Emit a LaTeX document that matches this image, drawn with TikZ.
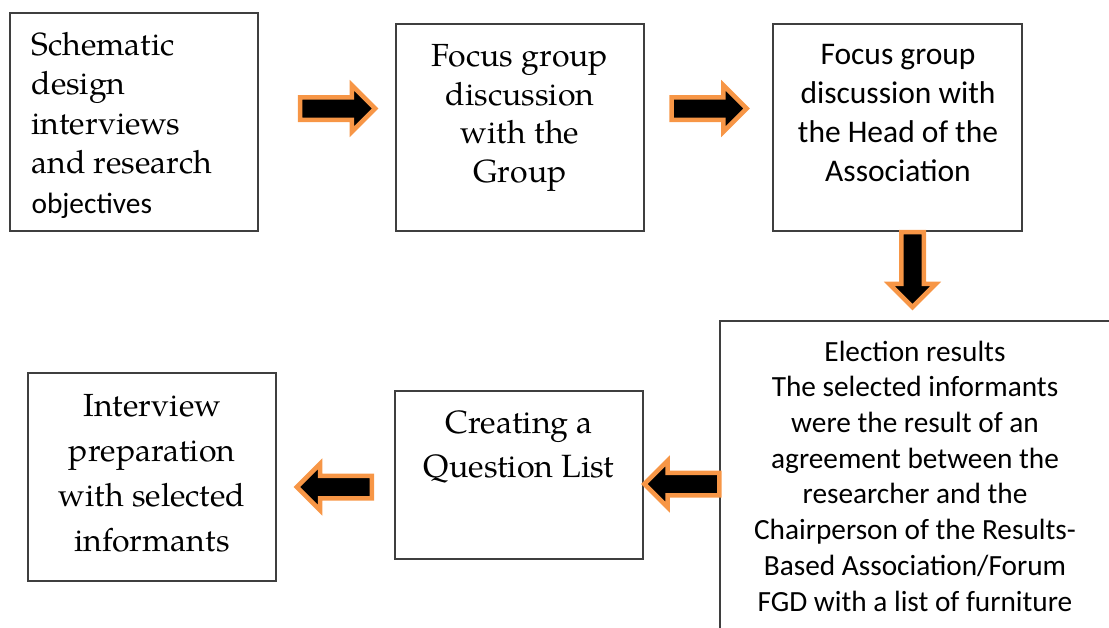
\documentclass[tikz,border=0pt]{standalone}
\usepackage{fontspec}
\setmainfont{TeX Gyre Pagella}
\newfontfamily\calib{Carlito}
\usetikzlibrary{shapes.arrows}
\definecolor{accent}{HTML}{F79646}
\definecolor{rim}{HTML}{3F3F3F}
\tikzset{
  stepbox/.style={draw=rim, line width=1.2pt, inner sep=0pt},
  blockarrow/.style={single arrow, draw=accent, fill=black, line width=4.5pt,
    inner xsep=0pt, inner ysep=9pt, minimum height=75pt, minimum width=42pt,
    single arrow head extend=12pt}
}
\begin{document}
\begin{tikzpicture}[x=1pt, y=-1pt]
\path[use as bounding box] (0,0) rectangle (1109,627);
\clip (0,0) rectangle (1109,627);
% boxes
\node[stepbox, minimum width=248pt, minimum height=218pt] (b1) at (134,122) {};
\node[stepbox, minimum width=248pt, minimum height=207pt] (b2) at (520,127.5) {};
\node[stepbox, minimum width=249pt, minimum height=207pt] (b3) at (897.5,127.5) {};
\node[stepbox, minimum width=410pt, minimum height=330pt] (b4) at (925,486) {};
\node[stepbox, minimum width=248pt, minimum height=168pt] (b5) at (519,475) {};
\node[stepbox, minimum width=248pt, minimum height=208pt] (b6) at (152,477) {};
% texts
\node[anchor=west, align=left, font=\fontsize{32}{39.5}\selectfont] (t1) at (28,125)
  {Schematic\\design\\interviews\\and research\\{\calib\fontsize{29.4}{39.5}\selectfont objectives}};
\node[align=center, font=\fontsize{32}{38.7}\selectfont] (t2) at (520,118)
  {Focus group\\discussion\\with the\\Group};
\node[align=center, font=\calib\fontsize{31.5}{38.7}\selectfont] (t3) at (898,113)
  {Focus group\\discussion with\\the Head of the\\Association};
\node[align=center, font=\calib\fontsize{29.3}{35.7}\selectfont] (t4) at (915,476)
  {Election results\\The selected informants\\were the result of an\\agreement between the\\researcher and the\\Chairperson of the Results-\\Based Association/Forum\\FGD with a list of furniture};
\node[align=center, font=\fontsize{32.2}{44}\selectfont] (t5) at (519,447)
  {Creating a\\Question List};
\node[align=center, font=\fontsize{32}{45}\selectfont] (t6) at (152,473)
  {Interview\\preparation\\with selected\\informants};
% arrows
\node[blockarrow] (a1) at (332,108.5) {};
\node[blockarrow] (a2) at (703.5,108.5) {};
\node[blockarrow, rotate=-90] (a3) at (912.5,264) {};
\node[blockarrow, rotate=180] (a4) at (687.5,484) {};
\node[blockarrow, rotate=180] (a5) at (340,487) {};
\end{tikzpicture}
\end{document}
